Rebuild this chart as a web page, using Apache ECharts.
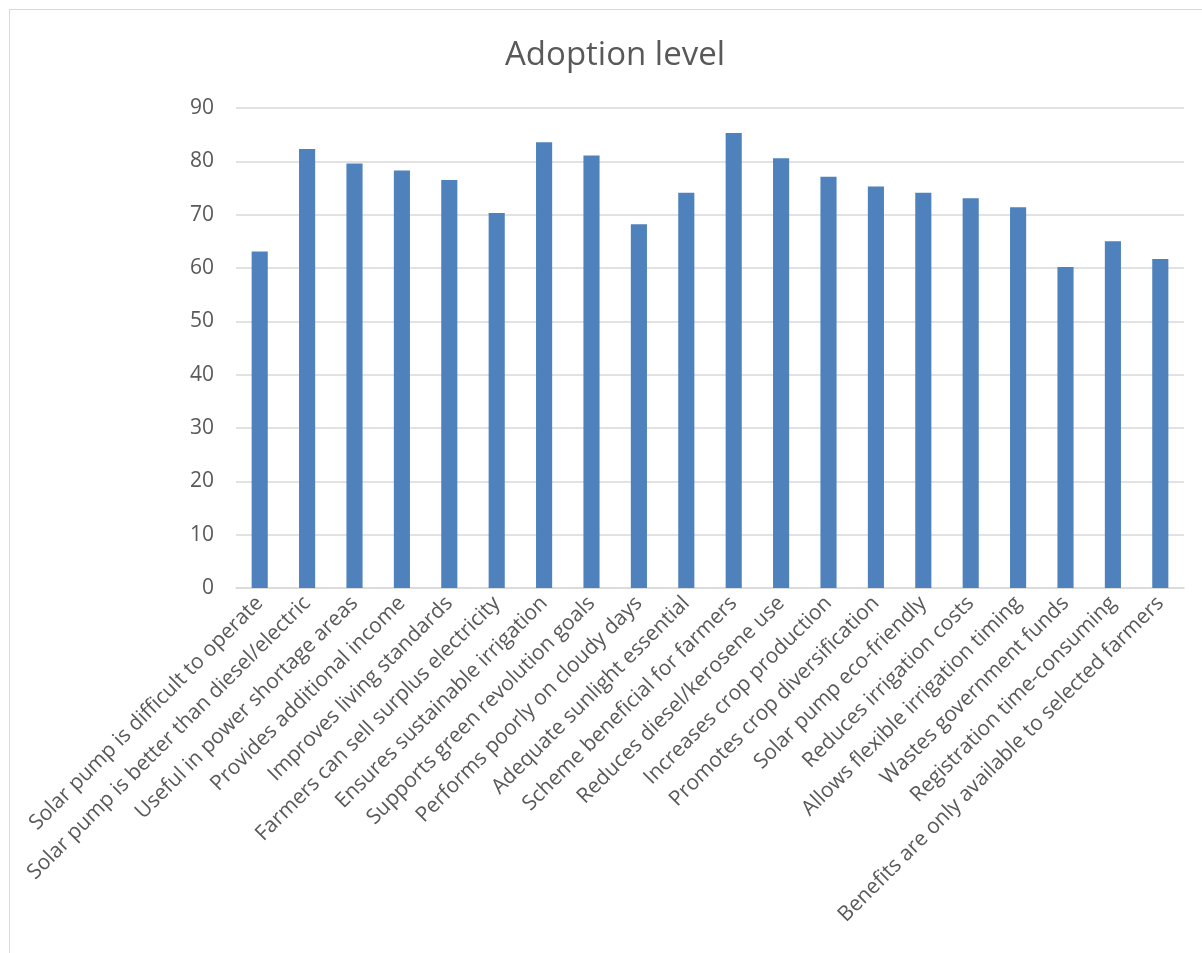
<!DOCTYPE html>
<html>
<head>
<meta charset="utf-8">
<script src="https://cdn.jsdelivr.net/npm/echarts@6/dist/echarts.min.js"></script>
<style>
html,body{margin:0;padding:0;background:#fff;}
#frame{position:absolute;left:9px;top:9px;width:1200px;height:960px;border:1px solid #D9D9D9;box-sizing:border-box;}
#chart{position:absolute;left:0;top:0;width:1202px;height:953px;}
</style>
</head>
<body>
<div id="frame"></div>
<div id="chart"></div>
<script>
const categories = [
  "Solar pump is difficult to operate",
  "Solar pump is better than diesel/electric",
  "Useful in power shortage areas",
  "Provides additional income",
  "Improves living standards",
  "Farmers can sell surplus electricity",
  "Ensures sustainable irrigation",
  "Supports green revolution goals",
  "Performs poorly on cloudy days",
  "Adequate sunlight essential",
  "Scheme beneficial for farmers",
  "Reduces diesel/kerosene use",
  "Increases crop production",
  "Promotes crop diversification",
  "Solar pump eco-friendly",
  "Reduces irrigation costs",
  "Allows flexible irrigation timing",
  "Wastes government funds",
  "Registration time-consuming",
  "Benefits are only available to selected farmers"
];
const adoptionLevel = [63.1, 82.3, 79.6, 78.3, 76.5, 70.3, 83.6, 81.1, 68.2, 74.1,
                       85.3, 80.6, 77.1, 75.3, 74.1, 73.1, 71.4, 60.2, 65.0, 61.7];
const yTicks = { min: 0, max: 90, interval: 10 };
const titleText = "Adoption level";

const chart = echarts.init(document.getElementById('chart'));
chart.setOption({
  animation: false,
  backgroundColor: 'transparent',
  textStyle: { fontFamily: 'Open Sans' },
  title: {
    text: titleText,
    left: 500,
    top: 34,
    textStyle: { fontFamily: 'Open Sans', fontSize: 33, fontWeight: 'normal', color: '#595959' }
  },
  grid: { left: 236, right: 18, top: 108, bottom: 365, containLabel: false },
  xAxis: {
    type: 'category',
    data: categories,
    axisLine: { lineStyle: { color: '#D9D9D9', width: 1.5 } },
    axisTick: { show: false },
    axisLabel: {
      rotate: 45,
      interval: 0,
      margin: 12,
      fontFamily: 'Open Sans',
      fontSize: 21,
      color: '#595959'
    }
  },
  yAxis: {
    type: 'value',
    min: yTicks.min,
    max: yTicks.max,
    interval: yTicks.interval,
    axisLine: { show: false },
    axisTick: { show: false },
    splitLine: { lineStyle: { color: '#D9D9D9', width: 1.5 } },
    axisLabel: { fontFamily: 'Open Sans', fontSize: 21, color: '#595959', margin: 22 }
  },
  series: [{
    type: 'bar',
    data: adoptionLevel,
    barWidth: '34%',
    itemStyle: { color: '#4F81BD' }
  }]
});
</script>
</body>
</html>
